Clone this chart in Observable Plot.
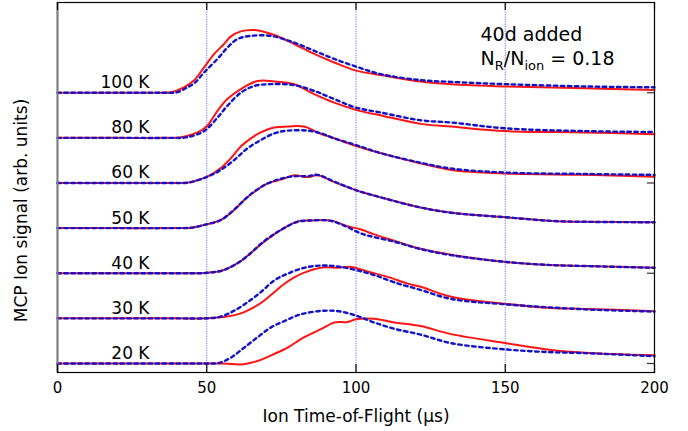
<!DOCTYPE html>
<html>
<head>
<meta charset="utf-8">
<script src="https://cdn.jsdelivr.net/npm/d3@7"></script>
<script src="https://cdn.jsdelivr.net/npm/@observablehq/plot@0.6"></script>
<style>
  html, body { margin: 0; padding: 0; background: #fff; }
  svg { display: block; }
</style>
</head>
<body>
<div id="chart"></div>
<script>
// ---- data (time in µs, signal in arb. units above each trace's baseline) ----
const temps = ["20 K", "30 K", "40 K", "50 K", "60 K", "80 K", "100 K"];
const offsets = [0, 1, 2, 3, 4, 5, 6];

const red20 = [[0,0],[20,0],[40,0],[52,0],[56,0],[61.4,-0.02],[65,0.02],[68.1,0.08],[72.6,0.21],[77.1,0.35],[81.5,0.54],[86,0.69],[89.4,0.80],[92.7,0.91],[97.2,0.92],[100,0.98],[106.1,0.99],[112.8,0.91],[121.6,0.83],[131.9,0.65],[150.3,0.45],[165.4,0.30],[176.6,0.24],[200,0.18]];
const blue20 = [[0,0],[20,0],[40,0],[50,0],[54,0.01],[58.1,0.13],[62.5,0.35],[67,0.58],[71.5,0.80],[76,0.94],[81.5,1.09],[89.4,1.17],[95,1.15],[100,1.06],[106.1,0.91],[112.8,0.77],[121.6,0.64],[131.9,0.45],[150.3,0.31],[165.4,0.25],[176.6,0.23],[200,0.16]];

const red30 = [[0,0],[20,0],[40,0],[50,0],[56.9,0.04],[61.4,0.11],[65.9,0.25],[69.2,0.39],[72.6,0.58],[75.9,0.76],[79.3,0.91],[83.8,1.04],[89.4,1.13],[93.9,1.12],[98.3,1.14],[103.9,1.04],[110.6,0.92],[117.3,0.77],[121.6,0.70],[131.9,0.48],[150.3,0.32],[165.4,0.23],[176.6,0.21],[200,0.16]];
const blue30 = [[0,0],[20,0],[40,0],[50,0],[54.7,0.04],[59.2,0.17],[63.7,0.36],[68.1,0.58],[72.6,0.84],[77.1,0.99],[82.6,1.12],[88.3,1.17],[93.9,1.15],[100,1.07],[106.1,0.96],[112.8,0.80],[121.6,0.63],[131.9,0.43],[150.3,0.31],[176.6,0.20],[200,0.15]];

const red40 = [[0,0],[20,0],[40,0],[48,0],[50.2,0.01],[54.7,0.05],[58.1,0.14],[61.4,0.27],[64.8,0.45],[68.1,0.64],[72.6,0.86],[75.9,1.0],[80.4,1.15],[84.9,1.17],[91.6,1.17],[97.2,1.04],[101.7,0.97],[106.1,0.86],[112.8,0.72],[120.7,0.56],[131.9,0.41],[150.3,0.25],[165.4,0.18],[176.6,0.16],[200,0.12]];
const blue40 = [[0,0],[20,0],[40,0],[48,0],[50.2,0.01],[54.7,0.05],[58.1,0.14],[61.4,0.27],[64.8,0.45],[68.1,0.65],[72.6,0.87],[75.9,1.0],[80.4,1.14],[84.9,1.17],[91.6,1.16],[97.2,1.02],[101.7,0.88],[106.1,0.80],[112.8,0.70],[120.7,0.55],[131.9,0.40],[150.3,0.25],[165.4,0.18],[176.6,0.16],[200,0.12]];

const red50 = [[0,0],[20,0],[38,0],[45,0.01],[49.1,0.07],[54.7,0.18],[59.2,0.40],[62.5,0.62],[65.9,0.80],[70.4,0.99],[75.2,1.08],[79.3,1.17],[83.8,1.13],[87.1,1.17],[92.7,1.02],[100,0.84],[109.5,0.66],[120.7,0.47],[131.9,0.34],[150.3,0.24],[165.4,0.16],[176.6,0.14],[200,0.13]];
const blue50 = [[0,0],[20,0],[38,0],[45,0.01],[49.1,0.07],[54.7,0.18],[59.2,0.41],[62.5,0.62],[65.9,0.81],[70.4,0.99],[75.2,1.10],[79.3,1.15],[83.8,1.15],[87.1,1.18],[92.7,1.03],[100,0.84],[109.5,0.66],[120.7,0.47],[131.9,0.34],[150.3,0.24],[165.4,0.16],[176.6,0.14],[200,0.13]];

const red60 = [[0,0],[20,0],[38,0],[44,0.01],[45.7,0.04],[50.2,0.14],[54.7,0.33],[58.1,0.55],[61.4,0.81],[64.8,0.99],[68.1,1.12],[72.6,1.23],[77.1,1.25],[82.6,1.25],[87.1,1.12],[92.7,0.99],[100,0.82],[109.5,0.64],[120.7,0.45],[131.9,0.29],[150.3,0.21],[176.6,0.18],[200,0.14]];
const blue60 = [[0,0],[20,0],[38,0],[44,0.01],[50.2,0.14],[54.7,0.29],[59.2,0.51],[63.7,0.77],[68.1,0.95],[72.6,1.10],[77.1,1.16],[83.8,1.16],[88.3,1.10],[92.7,0.99],[100,0.84],[108.4,0.66],[121.6,0.45],[131.9,0.32],[150.3,0.23],[176.6,0.20],[200,0.18]];

const red80 = [[0,0],[20,0],[36,0],[41,0.01],[46.9,0.12],[50.2,0.27],[53.6,0.60],[56.9,0.86],[61.4,1.08],[67,1.26],[72.6,1.25],[79.3,1.19],[86,0.97],[92.7,0.78],[100,0.62],[109.5,0.48],[121.6,0.31],[131.9,0.25],[150.3,0.15],[176.6,0.12],[200,0.08]];
const blue80 = [[0,0],[20,0],[38,0],[43,0.01],[49.1,0.15],[53.6,0.45],[56.9,0.71],[61.4,1.0],[65.9,1.15],[71.5,1.19],[79.3,1.17],[86,1.04],[92.7,0.86],[100,0.67],[108.4,0.56],[121.6,0.39],[131.9,0.34],[150.3,0.21],[176.6,0.15],[200,0.13]];

const red100 = [[0,0],[20,0],[34,0],[38,0.01],[42.3,0.12],[45.7,0.27],[49.1,0.56],[52.5,0.86],[55.8,1.08],[58.1,1.25],[61.4,1.36],[66,1.39],[72.6,1.28],[79.3,1.08],[86,0.86],[92.7,0.67],[100,0.49],[109.5,0.38],[121.6,0.25],[131.9,0.19],[150.3,0.14],[176.6,0.10],[200,0.06]];
const blue100 = [[0,0],[20,0],[35,0],[40,0.01],[43.5,0.12],[46,0.22],[49.1,0.45],[53.6,0.75],[56.9,1.0],[60.3,1.19],[64.8,1.26],[71.5,1.26],[79.3,1.11],[86,0.93],[92.7,0.75],[100,0.58],[108.4,0.41],[121.6,0.28],[131.9,0.24],[150.3,0.19],[176.6,0.14],[200,0.12]];

const redSeries = [red20, red30, red40, red50, red60, red80, red100];
const blueSeries = [blue20, blue30, blue40, blue50, blue60, blue80, blue100];

const xTicks = [0, 50, 100, 150, 200];
const gridLines = [50, 100, 150];
const rightTicks = [0, 2, 4, 6];
const xLabel = "Ion Time-of-Flight (µs)";
const yLabel = "MCP Ion signal (arb. units)";
const note1 = "40d added";
const note2 = "N_R/N_ion = 0.18";

// ---- build tables ----
const toRows = (series) => series.flatMap((s, i) =>
  s.map(([t, v]) => ({t, y: v + offsets[i], k: temps[i]})));
const redRows = toRows(redSeries);
const blueRows = toRows(blueSeries);

const W = 688, H = 431, mL = 57, mR = 34, mT = 2, mB = 59;
const fw = W - mL - mR, fh = H - mT - mB;

const svg = Plot.plot({
  width: W, height: H,
  marginLeft: mL, marginRight: mR, marginTop: mT, marginBottom: mB,
  style: {fontFamily: "'DejaVu Sans', Verdana, sans-serif", fontSize: "15px", background: "white", color: "black"},
  x: {domain: [0, 200], axis: null},
  y: {domain: [-0.2, 8.0], axis: null},
  marks: [
    Plot.ruleX(gridLines, {stroke: "#6a6aff", strokeWidth: 1, strokeDasharray: "1.2,1.2"}),
    Plot.line(redRows, {x: "t", y: "y", z: "k", stroke: "#ff1414", strokeWidth: 2, curve: "catmull-rom"}),
    Plot.line(blueRows, {x: "t", y: "y", z: "k", stroke: "#1212cc", strokeWidth: 2.4, strokeDasharray: "3.5,3.5", curve: "catmull-rom"}),
    Plot.frame({stroke: "black", strokeWidth: 1.2}),
    Plot.ruleX([0], {stroke: "#808080", strokeWidth: 2}),
    Plot.ruleX(xTicks, {stroke: "black", strokeWidth: 1.2, insetTop: fh - 8}),
    Plot.ruleX(xTicks, {stroke: "black", strokeWidth: 1.2, insetBottom: fh - 8}),
    Plot.ruleY(rightTicks, {stroke: "#333", strokeWidth: 1.2, insetLeft: fw - 7}),
    Plot.axisX({ticks: xTicks, tickSize: 0, tickPadding: 10, label: null, fontSize: 15}),
    Plot.text([xLabel], {frameAnchor: "bottom", dy: 44.5, lineAnchor: "middle", textAnchor: "middle", fontSize: 17}),
    Plot.text([yLabel], {frameAnchor: "left", rotate: -90, dx: -35.5, dy: 23, lineAnchor: "middle", textAnchor: "middle", fontSize: 17}),
    Plot.text(temps, {y: (d, i) => offsets[i], frameAnchor: "left", dx: 92, dy: -10, textAnchor: "end", lineAnchor: "middle", fontSize: 17}),
    Plot.text([note1], {frameAnchor: "top-left", dx: 423, dy: 32.6, textAnchor: "start", lineAnchor: "middle", fontSize: 19}),
    Plot.text([note2], {frameAnchor: "top-left", dx: 423, dy: 56.9, textAnchor: "start", lineAnchor: "middle", fontSize: 19})
  ]
});

// subscripts in the ratio annotation
const ratio = Array.from(svg.querySelectorAll("text")).find(t => t.textContent === note2);
if (ratio) {
  const [num, rest] = note2.split("/");
  const [a, sa] = num.split("_");
  const [b, sbAndTail] = rest.split("_");
  const sb = sbAndTail.split(" ")[0];
  const tail = sbAndTail.slice(sb.length);
  ratio.innerHTML = `${a}<tspan dy="5" font-size="13">${sa}</tspan><tspan dy="-5">/${b}</tspan><tspan dy="5" font-size="13">${sb}</tspan><tspan dy="-5">${tail.replace(/ /g, "\u00a0")}</tspan>`;
}

document.getElementById("chart").appendChild(svg);
</script>
</body>
</html>
